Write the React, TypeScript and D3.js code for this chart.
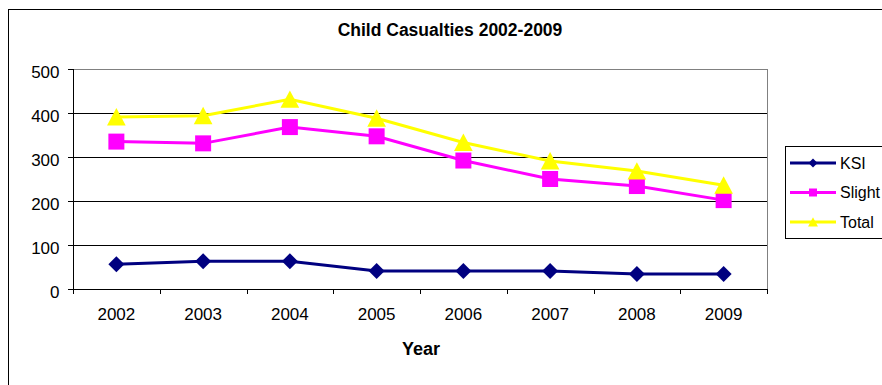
import React from "react";
import * as d3 from "d3";

const years = ["2002", "2003", "2004", "2005", "2006", "2007", "2008", "2009"];
const ksi = [56, 63, 63, 41, 41, 41, 34, 34];
const slight = [335, 331, 368, 347, 292, 250, 234, 202];
const total = [391, 394, 431, 388, 333, 291, 268, 236];
const yTicks = [0, 100, 200, 300, 400, 500];
const seriesNames = ["KSI", "Slight", "Total"];
const seriesColors = ["#000080", "#FF00FF", "#FFFF00"];

const W = 882, H = 385;
const plot = { left: 73, right: 767, top: 69, bottom: 289 };
const font = "Arial, 'Liberation Sans', sans-serif";

function marker(k: number, r: number): string {
  const p = d3.path();
  if (k === 0) {
    p.moveTo(0, -r); p.lineTo(r, 0); p.lineTo(0, r); p.lineTo(-r, 0); p.closePath();
  } else if (k === 1) {
    p.rect(-r, -r, 2 * r, 2 * r);
  } else {
    p.moveTo(0, -r * 1.05); p.lineTo(r * 1.1, r); p.lineTo(-r * 1.1, r); p.closePath();
  }
  return p.toString();
}

export default function App() {
  const x = d3.scaleBand().domain(years).range([plot.left, plot.right]);
  const y = d3.scaleLinear().domain([0, 500]).range([plot.bottom, plot.top]);
  const series = [ksi, slight, total];
  const cx = (i: number) => x(years[i])! + x.bandwidth() / 2;
  const line = d3.line<number>().x((_, i) => cx(i)).y((d) => y(d));
  const symR = [8, 8, 8.5];
  const legR = [4.5, 4, 4.5];

  return (
    <svg width={W} height={H} style={{ position: "absolute", left: 0, top: 0, background: "#fff" }}>
      <rect x={8.5} y={9.5} width={1000} height={1000} fill="#fff" stroke="#000" strokeWidth={1} />
      <text x={450} y={35.5} textAnchor="middle" fontFamily={font} fontWeight="bold" fontSize={17.5}>
        Child Casualties 2002-2009
      </text>
      {yTicks.map((t) => (
        <g key={t}>
          {t > 0 && (
            <line x1={plot.left} x2={plot.right} y1={Math.round(y(t)) + 0.5} y2={Math.round(y(t)) + 0.5}
              stroke={t === 500 ? "#808080" : "#000"} strokeWidth={1} />
          )}
          <line x1={plot.left - 5} x2={plot.left} y1={Math.round(y(t)) + 0.5} y2={Math.round(y(t)) + 0.5} stroke="#000" />
          <text x={59.5} y={y(t) + 8.5} textAnchor="end" fontFamily={font} fontSize={17}>{t}</text>
        </g>
      ))}
      <line x1={plot.right + 0.5} x2={plot.right + 0.5} y1={plot.top} y2={plot.bottom} stroke="#808080" />
      <line x1={plot.left + 0.5} x2={plot.left + 0.5} y1={plot.top} y2={plot.bottom + 1} stroke="#000" />
      <line x1={plot.left} x2={plot.right + 1} y1={plot.bottom + 0.5} y2={plot.bottom + 0.5} stroke="#000" />
      {years.map((yr) => (
        <line key={"t" + yr} x1={Math.round(x(yr)!) + 0.5} x2={Math.round(x(yr)!) + 0.5} y1={plot.bottom} y2={plot.bottom + 5} stroke="#000" />
      ))}
      <line x1={plot.right + 0.5} x2={plot.right + 0.5} y1={plot.bottom} y2={plot.bottom + 5} stroke="#000" />
      {years.map((yr, i) => (
        <text key={"l" + yr} x={cx(i)} y={319.5} textAnchor="middle" fontFamily={font} fontSize={17}>{yr}</text>
      ))}
      <text x={421} y={355} textAnchor="middle" fontFamily={font} fontWeight="bold" fontSize={18}>Year</text>
      {series.map((s, k) => (
        <g key={"s" + k}>
          <path d={line(s)!} fill="none" stroke={seriesColors[k]} strokeWidth={3} />
          {s.map((v, i) => (
            <path key={i} transform={`translate(${cx(i)},${y(v)})`} d={marker(k, symR[k])} fill={seriesColors[k]} />
          ))}
        </g>
      ))}
      <rect x={785.5} y={146.5} width={200} height={92} fill="#fff" stroke="#000" />
      {seriesNames.map((n, k) => {
        const ly = 163 + k * 29.5;
        return (
          <g key={n}>
            <line x1={790} x2={836} y1={ly} y2={ly} stroke={seriesColors[k]} strokeWidth={3} />
            <path transform={`translate(813,${ly})`} d={marker(k, legR[k])} fill={seriesColors[k]} />
            <text x={840} y={ly + 5.5} fontFamily={font} fontSize={16}>{n}</text>
          </g>
        );
      })}
    </svg>
  );
}
